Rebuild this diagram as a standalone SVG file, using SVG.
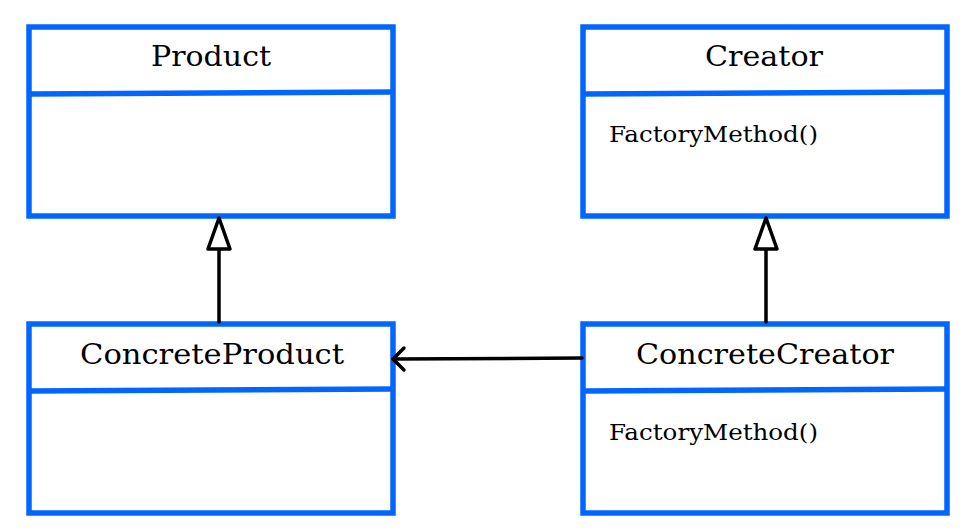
<svg xmlns="http://www.w3.org/2000/svg" width="975" height="531" viewBox="0 0 975 531">
  <style>
    .box { fill: #ffffff; stroke: #0066ff; stroke-width: 5.5; }
    .sep { fill: none; stroke: #0066ff; stroke-width: 5.5; }
    .title { font-family: "DejaVu Serif", "Liberation Serif", serif; font-size: 27px; fill: #000000; text-anchor: middle; }
    .op { font-family: "DejaVu Serif", "Liberation Serif", serif; font-size: 22px; fill: #000000; }
    .edge { fill: none; stroke: #000000; stroke-width: 3.5; stroke-linecap: round; stroke-linejoin: round; }
    .head { fill: #ffffff; stroke: #000000; stroke-width: 3.5; stroke-linejoin: round; }
  </style>
  <rect width="975" height="531" fill="#ffffff"/>

  <g id="product">
    <rect class="box" x="29" y="27" width="364" height="189"/>
    <line class="sep" x1="29" y1="94" x2="393" y2="92"/>
    <text class="title" x="211" y="66" textLength="120" lengthAdjust="spacingAndGlyphs">Product</text>
  </g>

  <g id="creator">
    <rect class="box" x="583" y="27" width="364" height="189"/>
    <line class="sep" x1="583" y1="94" x2="947" y2="92"/>
    <text class="title" x="764" y="66" textLength="118" lengthAdjust="spacingAndGlyphs">Creator</text>
    <text class="op" x="609" y="142" textLength="209" lengthAdjust="spacingAndGlyphs">FactoryMethod()</text>
  </g>

  <g id="concrete-product">
    <rect class="box" x="29" y="324" width="364" height="189"/>
    <line class="sep" x1="29" y1="391" x2="393" y2="389"/>
    <text class="title" x="212" y="364" textLength="264" lengthAdjust="spacingAndGlyphs">ConcreteProduct</text>
  </g>

  <g id="concrete-creator">
    <rect class="box" x="583" y="324" width="364" height="189"/>
    <line class="sep" x1="583" y1="391" x2="947" y2="389"/>
    <text class="title" x="765" y="364" textLength="258" lengthAdjust="spacingAndGlyphs">ConcreteCreator</text>
    <text class="op" x="609" y="440" textLength="209" lengthAdjust="spacingAndGlyphs">FactoryMethod()</text>
  </g>

  <g id="connectors">
    <!-- generalization: ConcreteProduct -> Product -->
    <line class="edge" x1="219" y1="322" x2="219" y2="249"/>
    <path class="head" d="M219 218 L208 249 L230 249 Z"/>
    <!-- generalization: ConcreteCreator -> Creator -->
    <line class="edge" x1="766" y1="322" x2="766" y2="249"/>
    <path class="head" d="M766 218 L755 249 L777 249 Z"/>
    <!-- association: ConcreteCreator -> ConcreteProduct -->
    <line class="edge" x1="582" y1="358" x2="393" y2="359"/>
    <polyline class="edge" points="404,348 393,359 404,370"/>
  </g>
</svg>
